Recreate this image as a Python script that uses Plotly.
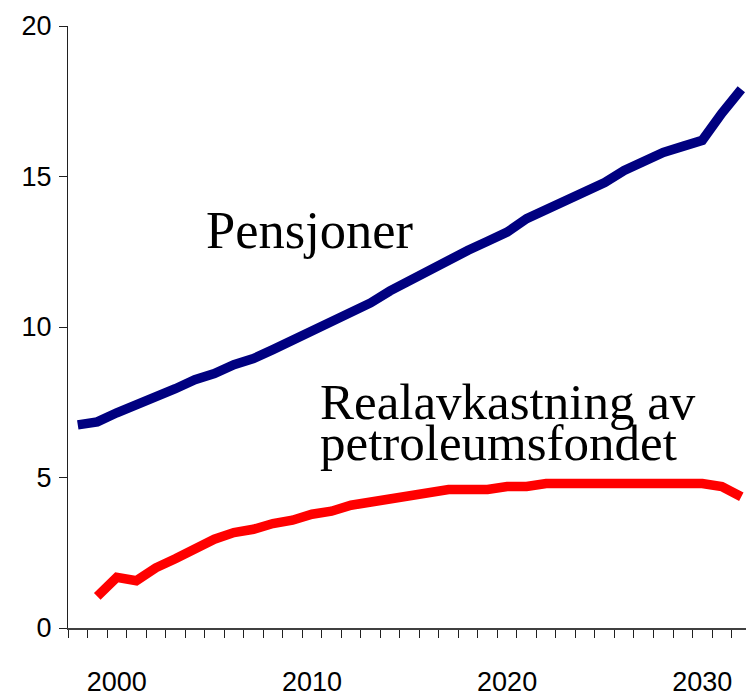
import plotly.graph_objects as go

years = list(range(1998, 2033))
pensjoner = [6.75, 6.85, 7.15, 7.4, 7.7, 7.95, 8.25, 8.45, 8.75, 8.95, 9.25, 9.55,
             9.85, 10.2, 10.5, 10.8, 11.2, 11.55, 11.9, 12.25, 12.55, 12.85, 13.15,
             13.6, 13.9, 14.2, 14.5, 14.8, 15.2, 15.5, 15.8, 16.0, 16.2, 17.1, 17.9]
realavkastning = [None, 1.05, 1.68, 1.57, 2.0, 2.3, 2.62, 2.95, 3.17, 3.28, 3.47, 3.58,
                  3.78, 3.88, 4.08, 4.18, 4.27, 4.37, 4.48, 4.6, 4.6, 4.6, 4.7, 4.7,
                  4.8, 4.8, 4.8, 4.8, 4.8, 4.8, 4.8, 4.8, 4.8, 4.7, 4.36]
x_tick_labels = ["2000", "2010", "2020", "2030"]
x_tick_vals = [2000, 2010, 2020, 2030]
y_tick_vals = [0, 5, 10, 15, 20]
label_pensjoner = "Pensjoner"
label_real_1 = "Realavkastning av"
label_real_2 = "petroleumsfondet"

fig = go.Figure()
fig.add_trace(go.Scatter(x=years, y=pensjoner, mode="lines",
                         line=dict(color="#000080", width=9.5), cliponaxis=False,
                         showlegend=False, hoverinfo="skip"))
fig.add_trace(go.Scatter(x=years, y=realavkastning, mode="lines",
                         line=dict(color="#FF0000", width=9.5), cliponaxis=False,
                         showlegend=False, hoverinfo="skip"))

tick_font = dict(family="Liberation Sans Narrow, Arial Narrow, Liberation Sans, Arial",
                 size=27, color="black")
serif = dict(family="Liberation Serif, Times New Roman, serif", size=51, color="black")
serif_big = dict(serif, size=52.5)

fig.update_layout(
    template="none",
    width=746, height=698,
    margin=dict(l=68, r=0, t=26, b=70, autoexpand=False),
    paper_bgcolor="white", plot_bgcolor="white",
    xaxis=dict(
        range=[1997.5, 2032.24], automargin=False,
        tickvals=x_tick_vals, ticktext=x_tick_labels,
        ticks="", showgrid=False, zeroline=False,
        showline=True, linecolor="#404040", linewidth=1.5,
        tickfont=tick_font, ticklabelstandoff=29,
        minor=dict(tickvals=[y - 0.5 for y in years], ticks="outside",
                   ticklen=8, tickcolor="#202020", tickwidth=1.2, showgrid=False),
    ),
    yaxis=dict(
        range=[0, 20], tickvals=y_tick_vals, automargin=False,
        ticks="outside", ticklen=8, tickcolor="#202020", tickwidth=1.2,
        showgrid=False, zeroline=False,
        showline=True, linecolor="#202020", linewidth=1.2,
        tickfont=tick_font, ticklabelstandoff=2,
    ),
    annotations=[
        dict(x=2004.45, y=12.2, xref="x", yref="y", text=label_pensjoner,
             showarrow=False, xanchor="left", yanchor="bottom", font=serif_big),
        dict(x=2010.3, y=6.52, xref="x", yref="y", text=label_real_1,
             showarrow=False, xanchor="left", yanchor="bottom", font=serif),
        dict(x=2010.3, y=5.15, xref="x", yref="y", text=label_real_2,
             showarrow=False, xanchor="left", yanchor="bottom", font=serif),
    ],
)

fig.write_html("out.html", config={"displayModeBar": False},
               post_script="document.body.style.margin='0px';document.body.style.overflow='hidden';")
